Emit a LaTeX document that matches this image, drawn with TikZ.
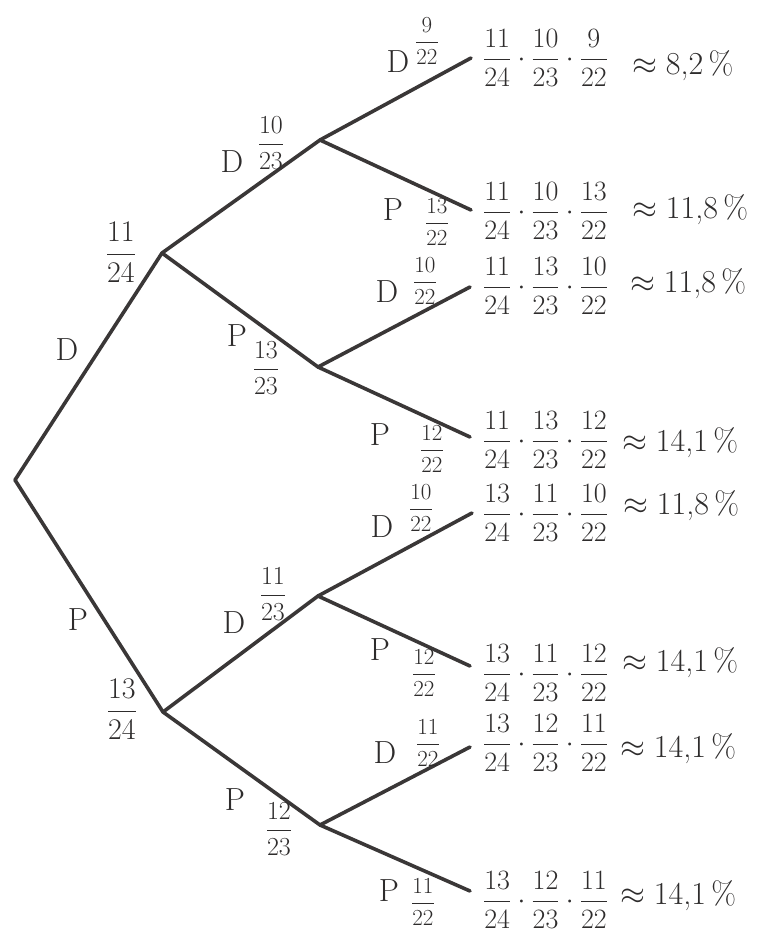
\RequirePackage{fix-cm}
\documentclass[tikz,border=0pt]{standalone}
\usepackage{amsmath}
\usetikzlibrary{calc}
\definecolor{ink}{HTML}{3A3737}
\definecolor{ink2}{HTML}{2E2C2C}
\begin{document}
\begin{tikzpicture}[x=1pt,y=-1pt,
  br/.style={line width=3.6pt, draw=ink, line cap=round, line join=round},
  lt/.style={text=ink2, inner sep=0pt, font=\fontsize{32}{32}\selectfont},
  fa/.style={text=ink2, inner sep=0pt, font=\fontsize{30}{30}\selectfont},
  fb/.style={text=ink2, inner sep=0pt, font=\fontsize{26}{26}\selectfont},
  fc/.style={text=ink2, inner sep=0pt, font=\fontsize{23}{23}\selectfont},
  prod/.style={text=ink2, inner sep=0pt, anchor=west, font=\fontsize{28}{28}\selectfont},
  pct/.style={text=ink2, inner sep=0pt, anchor=west, font=\fontsize{32}{32}\selectfont}]
\useasboundingbox (0,0) rectangle (770,932);

% tree points
\coordinate (r) at (15,480);
\coordinate (d) at (162,253);
\coordinate (p) at (163,712);
\coordinate (dd) at (320,140);
\coordinate (dp) at (318,367);
\coordinate (pd) at (318,596);
\coordinate (pp) at (320,825);
\coordinate (l1) at (471,58);
\coordinate (l2) at (471,210);
\coordinate (l3) at (470,287);
\coordinate (l4) at (470,437);
\coordinate (l5) at (472,513);
\coordinate (l6) at (470,666);
\coordinate (l7) at (470,747);
\coordinate (l8) at (470,891);

% branches
\draw[br] (r) -- (d);
\draw[br] (r) -- (p);
\draw[br] (d) -- (dd);
\draw[br] (d) -- (dp);
\draw[br] (p) -- (pd);
\draw[br] (p) -- (pp);
\draw[br] (dd) -- (l1);
\draw[br] (dd) -- (l2);
\draw[br] (dp) -- (l3);
\draw[br] (dp) -- (l4);
\draw[br] (pd) -- (l5);
\draw[br] (pd) -- (l6);
\draw[br] (pp) -- (l7);
\draw[br] (pp) -- (l8);

% level 1 labels
\node[lt] (aD) at (67,350) {D};
\node[fa] (aDf) at (121,252) {$\dfrac{11}{24}$};
\node[lt] (aP) at (78,620) {P};
\node[fa] (aPf) at (122,709) {$\dfrac{13}{24}$};

% level 2 labels
\node[lt] (bD1) at (232,162) {D};
\node[fb] (bD1f) at (271,143) {$\dfrac{10}{23}$};
\node[lt] (bP1) at (237,336) {P};
\node[fb] (bP1f) at (266,368) {$\dfrac{13}{23}$};
\node[lt] (bD2) at (234,623) {D};
\node[fb] (bD2f) at (273,594) {$\dfrac{11}{23}$};
\node[lt] (bP2) at (235,800) {P};
\node[fb] (bP2f) at (279,829) {$\dfrac{12}{23}$};

% level 3 labels
\node[lt] (c1) at (398,62) {D};
\node[fc] (c1f) at (427,41) {$\dfrac{9}{22}$};
\node[lt] (c2) at (393,210) {P};
\node[fc] (c2f) at (437,222) {$\dfrac{13}{22}$};
\node[lt] (c3) at (387,292) {D};
\node[fc] (c3f) at (425,281) {$\dfrac{10}{22}$};
\node[lt] (c4) at (380,435) {P};
\node[fc] (c4f) at (432,449) {$\dfrac{12}{22}$};
\node[lt] (c5) at (382,527) {D};
\node[fc] (c5f) at (421,508) {$\dfrac{10}{22}$};
\node[lt] (c6) at (380,650) {P};
\node[fc] (c6f) at (424,673) {$\dfrac{12}{22}$};
\node[lt] (c7) at (385,753) {D};
\node[fc] (c7f) at (428,743) {$\dfrac{11}{22}$};
\node[lt] (c8) at (389,891) {P};
\node[fc] (c8f) at (423,902) {$\dfrac{11}{22}$};

% results
\node[prod] (q1) at (483,58) {$\dfrac{11}{24}\cdot\dfrac{10}{23}\cdot\dfrac{9}{22}$};
\node[pct] (s1) at (632,66) {$\approx$\;8,2\,\%};
\node[prod] (q2) at (483,211) {$\dfrac{11}{24}\cdot\dfrac{10}{23}\cdot\dfrac{13}{22}$};
\node[pct] (s2) at (632,210) {$\approx$\;11,8\,\%};
\node[prod] (q3) at (483,286) {$\dfrac{11}{24}\cdot\dfrac{13}{23}\cdot\dfrac{10}{22}$};
\node[pct] (s3) at (630,284) {$\approx$\;11,8\,\%};
\node[prod] (q4) at (483,440) {$\dfrac{11}{24}\cdot\dfrac{13}{23}\cdot\dfrac{12}{22}$};
\node[pct] (s4) at (622,443) {$\approx$\;14,1\,\%};
\node[prod] (q5) at (483,513) {$\dfrac{13}{24}\cdot\dfrac{11}{23}\cdot\dfrac{10}{22}$};
\node[pct] (s5) at (623,506) {$\approx$\;11,8\,\%};
\node[prod] (q6) at (483,673) {$\dfrac{13}{24}\cdot\dfrac{11}{23}\cdot\dfrac{12}{22}$};
\node[pct] (s6) at (622,663) {$\approx$\;14,1\,\%};
\node[prod] (q7) at (483,743) {$\dfrac{13}{24}\cdot\dfrac{12}{23}\cdot\dfrac{11}{22}$};
\node[pct] (s7) at (620,749) {$\approx$\;14,1\,\%};
\node[prod] (q8) at (483,900) {$\dfrac{13}{24}\cdot\dfrac{12}{23}\cdot\dfrac{11}{22}$};
\node[pct] (s8) at (620,896) {$\approx$\;14,1\,\%};
\end{tikzpicture}
\end{document}
